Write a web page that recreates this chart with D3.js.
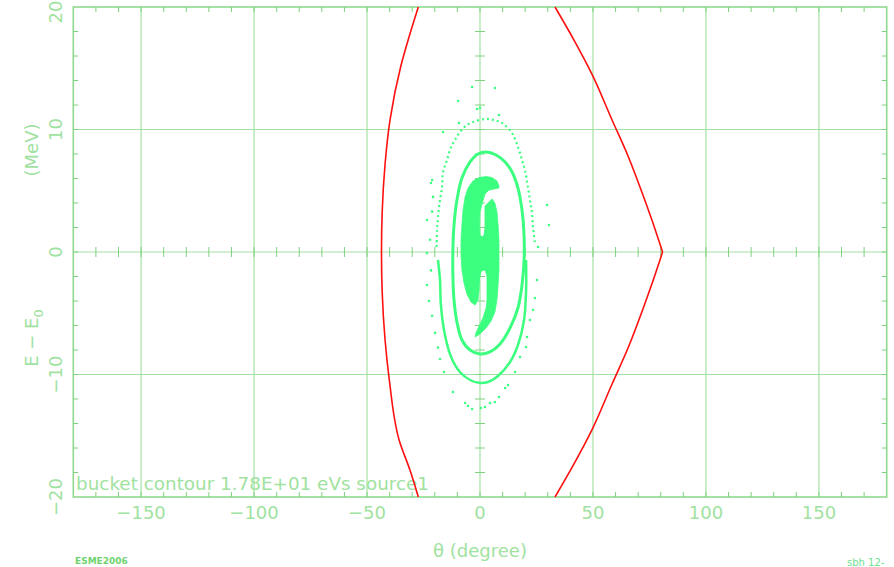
<!DOCTYPE html>
<html><head><meta charset="utf-8">
<script src="https://cdn.jsdelivr.net/npm/d3@7"></script>
<style>body{margin:0;background:#fff}svg{display:block}</style>
</head><body>
<script>
// ---- data (theta in degrees, dE in MeV) ----
const xTicks = [-150,-100,-50,0,50,100,150];
const yTicks = [-20,-10,0,10,20];
const xTickLabels = ["\u2212150","\u2212100","\u221250","0","50","100","150"];
const yTickLabels = ["\u221220","\u221210","0","10","20"];

const separatrixLeft = [[-27.3,20],[-31,17.8],[-35,15.2],[-39.8,10.8],[-42,7.2],[-43.3,3.2],[-43.6,0],[-43.3,-3.2],[-42,-7.2],[-40.1,-10.5],[-35.7,-15.4],[-31,-17.8],[-27.3,-20]];
const separatrixRightUpper = [[33.2,20],[41.6,17.3],[49.6,14.5],[58.4,10.8],[65.6,7.8],[72.8,4.3],[77.4,1.9],[80.8,0]];
const separatrixRightLower = [[80.8,0],[77.4,-1.9],[72.8,-4.3],[65.6,-7.8],[58.4,-10.8],[49.6,-14.5],[41.6,-17.3],[33.2,-20]];

const core = [[8.4,5.22],[8.4,5.39],[7.5,5.80],[5.3,6.08],[2.7,6.16],[-0.4,6.08],[-3.1,5.80],[-5.3,5.22],[-6.6,4.49],[-7.5,3.43],[-8.0,2.20],[-8.4,0.98],[-8.4,-0.24],[-8.0,-1.47],[-7.1,-2.53],[-5.8,-3.43],[-4.0,-4.08],[-2.2,-4.33],[-0.9,-3.92],[-0.4,-3.10],[-0.2,-2.12],[0.6,-1.55],[2.2,-1.47],[3.1,-1.96],[3.1,-3.10],[3.1,-3.92],[2.7,-4.57],[1.3,-5.39],[-0.4,-6.04],[-1.8,-6.61],[-2.2,-6.94],[0.0,-6.69],[2.7,-6.20],[4.9,-5.63],[6.6,-4.90],[7.5,-3.92],[8.0,-2.69],[8.4,-1.47],[8.4,-0.24],[8.4,0.98],[8.0,2.20],[7.5,3.27],[6.6,4.00],[5.3,4.33],[3.1,3.92],[2.2,3.76],[2.2,3.02],[2.2,1.96],[1.8,1.39],[0.9,1.22],[0.0,1.39],[-0.2,2.20],[0.0,3.27],[0.9,3.92],[2.2,4.73],[4.0,5.06],[6.2,5.14]];

const ring1 = [[2.7,8.16],[7.1,7.92],[11.1,7.35],[14.2,6.53],[16.8,5.22],[18.6,3.43],[19.5,1.39],[19.5,-0.65],[18.6,-2.69],[16.8,-4.57],[13.3,-6.20],[8.9,-7.51],[4.4,-8.16],[0.0,-8.33],[-4.4,-8.00],[-8.0,-7.18],[-10.2,-5.71],[-11.5,-3.92],[-12.0,-1.88],[-12.0,0.16],[-11.5,2.20],[-10.2,4.24],[-8.0,6.04],[-4.4,7.35],[-0.9,8.00]];

const ring2Upper = [[-19.2,0.41],[-19.0,1.80],[-18.6,2.86],[-17.7,4.24],[-16.8,5.31],[-16.4,6.45],[-14.6,7.51],[-12.8,8.57],[-11.1,9.14],[-8.9,9.80],[-5.8,10.37],[-3.1,10.61],[2.2,10.86],[5.8,10.78],[9.7,10.53],[14.2,9.71],[16.8,8.57],[18.6,7.51],[19.9,6.69],[21.2,5.31],[22.1,4.24],[23.0,3.18],[23.5,2.04],[24.3,0.73]];

const ring2Lower = [[-18.6,-0.65],[-17.7,-2.29],[-17.3,-4.33],[-15.5,-6.78],[-12.8,-8.57],[-8.9,-9.80],[-4.4,-10.45],[0.0,-10.69],[3.5,-10.61],[8.0,-10.12],[13.3,-8.98],[16.8,-7.59],[19.5,-5.55],[20.4,-3.10],[20.4,-0.65]];

const scatter = [[-3.5,13.47],[6.6,13.39],[-9.7,12.33],[0.0,11.75],[-1.3,11.67],[-9.3,10.53],[8.4,11.18],[-16.4,9.80],[-21.2,5.88],[-21.7,5.63],[-23.5,2.61],[-23.5,-0.08],[-23.5,-2.69],[-22.6,-4.00],[-17.7,-8.73],[-15.9,-9.80],[-12.0,-11.43],[-6.6,-12.33],[-5.3,-12.57],[-3.5,-12.82],[0.4,-12.73],[2.2,-12.65],[4.4,-12.33],[6.6,-12.24],[8.4,-11.84],[11.1,-11.10],[12.4,-10.86],[15.5,-9.80],[17.7,-8.57],[20.4,-7.76],[20.8,-6.94],[22.1,-5.55],[23.5,-4.73],[24.3,-3.76],[25.2,-2.29],[25.7,0.41],[30.5,2.20],[29.7,3.84],[-20.8,4.5],[-21.2,3.3],[-22.1,1.0],[-21.7,-1.5],[-21.2,-5.2],[-19.9,-6.6],[-18.6,-7.8]];

const titleText = "bucket contour 1.78E+01 eVs source1";

// ---- drawing ----
const W = 894, H = 567;
const svg = d3.select("body").append("svg").attr("width", W).attr("height", H);
const x = d3.scaleLinear().domain([-180,180]).range([73.3,886.7]);
const y = d3.scaleLinear().domain([-20,20]).range([497,7]);

const gridCol = "#a4e2a4", frameCol = "#8fd98f", tickCol = "#7fd27f", txtCol = "#a0e2a0";
const ptCol = "#3dff7f", redCol = "#ff1010";

const g = svg.append("g");
g.selectAll(".vg").data(xTicks).join("line")
  .attr("x1", d=>x(d)).attr("x2", d=>x(d)).attr("y1", y(20)).attr("y2", y(-20))
  .attr("stroke", gridCol).attr("stroke-width", 1.2);
g.selectAll(".hg").data([-10,0,10]).join("line")
  .attr("x1", x(-180)).attr("x2", x(180)).attr("y1", d=>y(d)).attr("y2", d=>y(d))
  .attr("stroke", gridCol).attr("stroke-width", 1.2);
g.append("rect").attr("x", x(-180)).attr("y", y(20)).attr("width", x(180)-x(-180)).attr("height", y(-20)-y(20))
  .attr("fill","none").attr("stroke", frameCol).attr("stroke-width", 1.6);

const minorX = d3.range(-170,180,10);
const minorY = d3.range(-18,20,2);
const tl = 5;
minorX.forEach(v=>{
  g.append("line").attr("x1",x(v)).attr("x2",x(v)).attr("y1",y(-20)).attr("y2",y(-20)-tl).attr("stroke",tickCol);
  g.append("line").attr("x1",x(v)).attr("x2",x(v)).attr("y1",y(20)).attr("y2",y(20)+tl).attr("stroke",tickCol);
  g.append("line").attr("x1",x(v)).attr("x2",x(v)).attr("y1",y(0)-tl).attr("y2",y(0)+tl).attr("stroke",tickCol);
});
minorY.forEach(v=>{
  g.append("line").attr("x1",x(-180)).attr("x2",x(-180)+tl).attr("y1",y(v)).attr("y2",y(v)).attr("stroke",tickCol);
  g.append("line").attr("x1",x(180)).attr("x2",x(180)-tl).attr("y1",y(v)).attr("y2",y(v)).attr("stroke",tickCol);
  g.append("line").attr("x1",x(0)-tl).attr("x2",x(0)+tl).attr("y1",y(v)).attr("y2",y(v)).attr("stroke",tickCol);
});

const font = "'DejaVu Sans', sans-serif";
g.selectAll(".xl").data(xTicks).join("text")
  .attr("x", d=>x(d)).attr("y", 519).attr("text-anchor","middle")
  .attr("font-family", font).attr("font-size", 18).attr("fill", txtCol)
  .text((d,i)=>xTickLabels[i]);
g.selectAll(".yl").data(yTicks).join("text")
  .attr("transform", d=>`translate(62,${Math.max(y(d),12)}) rotate(-90)`).attr("text-anchor","middle")
  .attr("font-family", font).attr("font-size", 18).attr("fill", txtCol)
  .text((d,i)=>yTickLabels[i]);

const yt = svg.append("text").attr("transform","translate(38,338) rotate(-90)").attr("text-anchor","middle")
  .attr("font-family", font).attr("font-size", 18).attr("fill", txtCol);
yt.append("tspan").text("E \u2212 E");
yt.append("tspan").attr("dy", 5).attr("font-size", 13).text("0");
svg.append("text").attr("transform","translate(38,150) rotate(-90)").attr("text-anchor","middle")
  .attr("font-family", font).attr("font-size", 18).attr("fill", txtCol).text("(MeV)");
svg.append("text").attr("x", 480).attr("y", 557).attr("text-anchor","middle")
  .attr("font-family", font).attr("font-size", 18).attr("fill", txtCol).text("\u03b8 (degree)");

svg.append("text").attr("x", 76).attr("y", 490).attr("font-family", font).attr("font-size", 18)
  .attr("fill", txtCol).attr("textLength", 353).attr("lengthAdjust","spacingAndGlyphs").text(titleText);
svg.append("text").attr("x", 75).attr("y", 564).attr("font-family", font).attr("font-size", 9).attr("font-weight","bold")
  .attr("fill", "#6fd36f").text("ESME2006");
svg.append("text").attr("x", 847).attr("y", 566).attr("font-family", font).attr("font-size", 10)
  .attr("fill", "#6fe08f").text("sbh 12-");

// separatrix
const sepLine = d3.line().x(d=>x(d[0])).y(d=>y(d[1])).curve(d3.curveMonotoneY);
[separatrixLeft, separatrixRightUpper, separatrixRightLower].forEach(s=>{
  svg.append("path").attr("d", sepLine(s)).attr("fill","none").attr("stroke", redCol).attr("stroke-width", 1.6);
});

// particles
const line = d3.line().x(d=>x(d[0])).y(d=>y(d[1])).curve(d3.curveCatmullRom);
const closed = d3.line().x(d=>x(d[0])).y(d=>y(d[1])).curve(d3.curveCatmullRomClosed);
const poly = d3.line().x(d=>x(d[0])).y(d=>y(d[1])).curve(d3.curveLinearClosed);
svg.append("path").attr("d", poly(core)).attr("fill", ptCol).attr("stroke", ptCol).attr("stroke-width", 0.8).attr("stroke-linejoin","round");
svg.append("path").attr("d", closed(ring1)).attr("fill","none").attr("stroke", ptCol).attr("stroke-width", 3);
svg.append("path").attr("d", line(ring2Lower)).attr("fill","none").attr("stroke", ptCol).attr("stroke-width", 2.5);
svg.append("path").attr("d", line(ring2Upper)).attr("fill","none").attr("stroke", ptCol).attr("stroke-width", 2.2)
  .attr("stroke-dasharray","2,3");
svg.selectAll(".pt").data(scatter).join("circle")
  .attr("cx", d=>x(d[0])).attr("cy", d=>y(d[1])).attr("r", 1.3).attr("fill", ptCol);
</script>
</body></html>
